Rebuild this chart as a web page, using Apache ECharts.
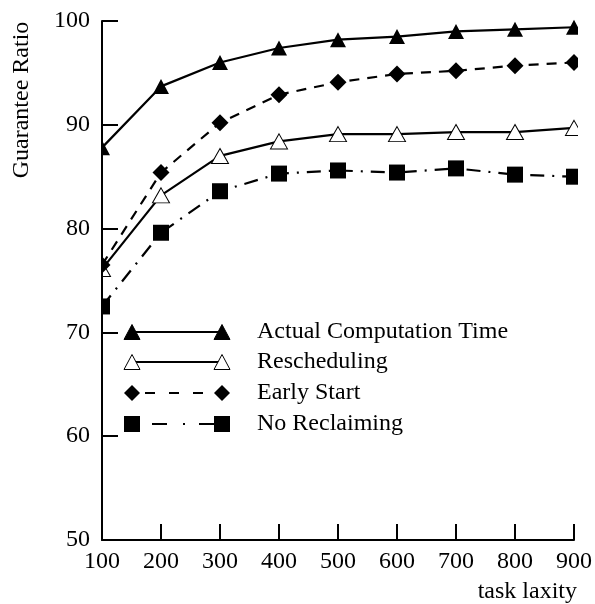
<!DOCTYPE html>
<html>
<head>
<meta charset="utf-8">
<script src="https://cdn.jsdelivr.net/npm/echarts@6/dist/echarts.min.js"></script>
<style>html,body{margin:0;padding:0;background:#fff;}#c{width:595px;height:604px;}</style>
</head>
<body>
<div id="c"></div>
<script>
var laxity = [100, 200, 300, 400, 500, 600, 700, 800, 900];
var actualComputation = [87.8, 93.7, 96.0, 97.4, 98.2, 98.5, 99.0, 99.2, 99.4];
var rescheduling = [76.1, 83.2, 87.0, 88.4, 89.1, 89.1, 89.3, 89.3, 89.7];
var earlyStart = [76.5, 85.4, 90.2, 92.9, 94.1, 94.9, 95.2, 95.7, 96.0];
var noReclaiming = [72.5, 79.6, 83.6, 85.3, 85.6, 85.4, 85.8, 85.2, 85.0];
var seriesNames = ['Actual Computation Time', 'Rescheduling', 'Early Start', 'No Reclaiming'];
var yTicks = [50, 60, 70, 80, 90, 100];

var FONT = '"Liberation Serif", "Times New Roman", serif';
var FS = 24;
function pts(arr) { return laxity.map(function (x, i) { return [x, arr[i]]; }); }

var chart = echarts.init(document.getElementById('c'), null, { renderer: 'canvas' });

var legendRows = [332, 362, 393, 424];
var lx1 = 132, lx2 = 222, ltext = 257;
var g = [];
function tri(cx, cy, fill) {
  return { type: 'polygon', z: 110, shape: { points: [[cx, cy - 7.5], [cx + 8, cy + 7.5], [cx - 8, cy + 7.5]] },
    style: { fill: fill ? '#000' : '#fff', stroke: '#000', lineWidth: 1 } };
}
function dia(cx, cy) {
  return { type: 'polygon', z: 110, shape: { points: [[cx, cy - 8], [cx + 8, cy], [cx, cy + 8], [cx - 8, cy]] },
    style: { fill: '#000' } };
}
function sq(cx, cy) {
  return { type: 'rect', z: 110, shape: { x: cx - 8, y: cy - 8, width: 16, height: 16 }, style: { fill: '#000' } };
}
function lline(x1, x2, y, dash) {
  return { type: 'line', z: 105, shape: { x1: x1, y1: y, x2: x2, y2: y },
    style: { stroke: '#000', lineWidth: 2.2, lineDash: dash || null } };
}
g.push(lline(lx1, lx2, legendRows[0]));
g.push(tri(lx1, legendRows[0], true), tri(lx2, legendRows[0], true));
g.push(lline(lx1, lx2, legendRows[1]));
g.push(tri(lx1, legendRows[1], false), tri(lx2, legendRows[1], false));
g.push(lline(145, lx2, legendRows[2], [10, 14]));
g.push(dia(lx1, legendRows[2]), dia(lx2, legendRows[2]));
g.push(lline(152, lx2, legendRows[3], [15, 16, 2, 14]));
g.push(sq(lx1, legendRows[3]), sq(lx2, legendRows[3]));
for (var i = 0; i < 4; i++) {
  g.push({ type: 'text', z: 110, x: ltext, y: legendRows[i],
    style: { text: seriesNames[i], font: FS + 'px ' + FONT, fill: '#000', verticalAlign: 'middle', align: 'left' } });
}
g.push({ type: 'text', z: 110, x: 22, y: 100, rotation: Math.PI / 2,
  style: { text: 'Guarantee Ratio', font: FS + 'px ' + FONT, fill: '#000', align: 'center', verticalAlign: 'middle' } });
g.push({ type: 'text', z: 110, x: 577, y: 592,
  style: { text: 'task laxity', font: FS + 'px ' + FONT, fill: '#000', align: 'right', verticalAlign: 'middle' } });
g.push({ type: 'rect', z: 100, shape: { x: 578, y: 0, width: 17, height: 535 }, style: { fill: '#fff' } });
g.push({ type: 'rect', z: 100, shape: { x: 90, y: 0, width: 11, height: 538 }, style: { fill: '#fff' } });

var lineBase = { type: 'line', animation: false, silent: true, clip: false, z: 2 };

chart.setOption({
  animation: false,
  backgroundColor: '#fff',
  grid: { left: 102, right: 18, top: 21, bottom: 64 },
  xAxis: {
    type: 'value', min: 100, max: 900, interval: 100, z: 200,
    axisLine: { lineStyle: { color: '#000', width: 2 } },
    axisTick: { inside: true, length: 16, lineStyle: { color: '#000', width: 2 } },
    axisLabel: { color: '#000', fontFamily: FONT, fontSize: FS, margin: 10 },
    splitLine: { show: false }
  },
  yAxis: {
    type: 'value', min: 50, max: 100, interval: 10, z: 200,
    axisLine: { show: true, lineStyle: { color: '#000', width: 2 } },
    axisTick: { show: true, inside: true, length: 16, lineStyle: { color: '#000', width: 2 } },
    axisLabel: { color: '#000', fontFamily: FONT, fontSize: FS, margin: 12 },
    splitLine: { show: false }
  },
  graphic: g,
  series: [
    Object.assign({}, lineBase, {
      name: seriesNames[0], data: pts(actualComputation), symbol: 'triangle', symbolSize: [16, 15],
      itemStyle: { color: '#000' }, lineStyle: { color: '#000', width: 2.2 }
    }),
    Object.assign({}, lineBase, {
      name: seriesNames[1], data: pts(rescheduling), symbol: 'triangle', symbolSize: [17, 15],
      itemStyle: { color: '#fff', borderColor: '#000', borderWidth: 1 }, lineStyle: { color: '#000', width: 2.2 }
    }),
    Object.assign({}, lineBase, {
      name: seriesNames[2], data: pts(earlyStart), symbol: 'diamond', symbolSize: [17, 17],
      itemStyle: { color: '#000' }, lineStyle: { color: '#000', width: 2.2, type: [10, 8] }
    }),
    Object.assign({}, lineBase, {
      name: seriesNames[3], data: pts(noReclaiming), symbol: 'rect', symbolSize: [16, 16],
      itemStyle: { color: '#000' }, lineStyle: { color: '#000', width: 2.2, type: [14, 8, 2, 8] }
    })
  ]
});
</script>
</body>
</html>
